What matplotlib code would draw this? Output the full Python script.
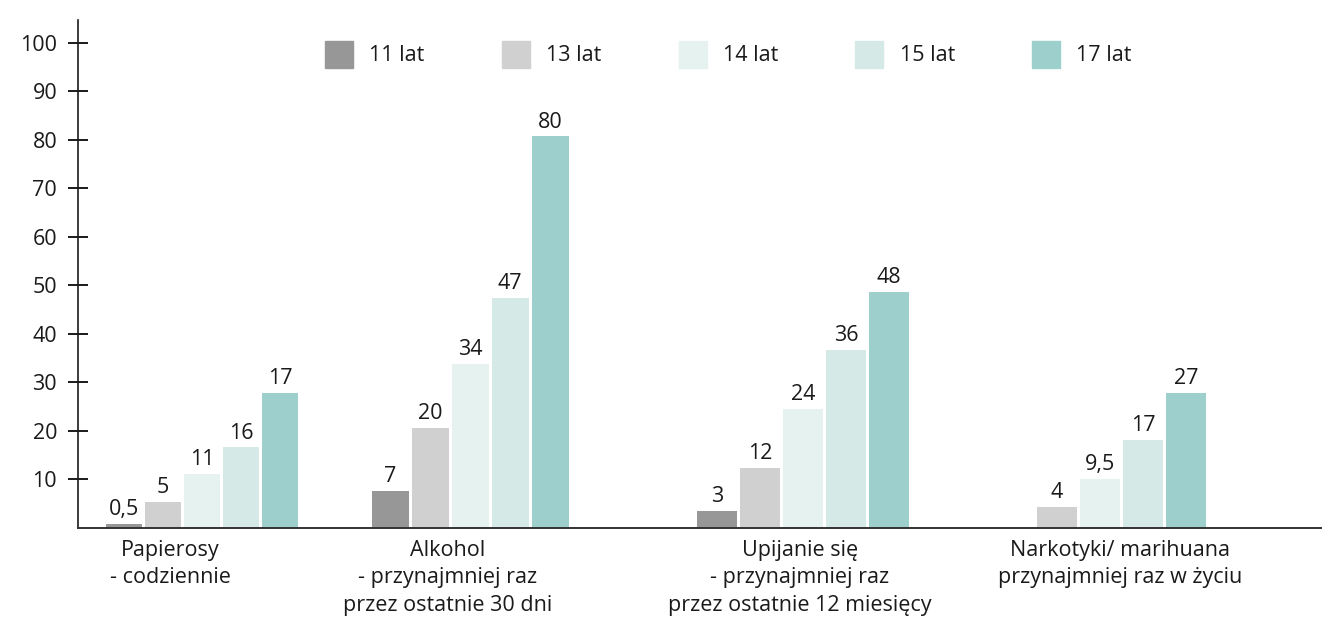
import matplotlib
matplotlib.use("Agg")
import matplotlib.pyplot as plt

plt.rcParams['font.family'] = ['Open Sans', 'DejaVu Sans']

# data
categories = ["Papierosy\n- codziennie",
              "Alkohol\n- przynajmniej raz\nprzez ostatnie 30 dni",
              "Upijanie się\n- przynajmniej raz\nprzez ostatnie 12 miesięcy",
              "Narkotyki/ marihuana\nprzynajmniej raz w życiu"]
series = ["11 lat", "13 lat", "14 lat", "15 lat", "17 lat"]
# drawn bar heights (as measured on the axis)
heights = [
    [0.8, 5.4, 11.1, 16.6, 27.8],
    [7.7, 20.6, 33.9, 47.5, 80.7],
    [3.6, 12.4, 24.6, 36.7, 48.6],
    [None, 4.3, 10.1, 18.2, 27.8],
]
# printed value labels
value_labels = [
    ["0,5", "5", "11", "16", "17"],
    ["7", "20", "34", "47", "80"],
    ["3", "12", "24", "36", "48"],
    [None, "4", "9,5", "17", "27"],
]
colors = ["#979797", "#d0d0d0", "#e5f2f0", "#d5e9e6", "#9dd0cd"]

# layout (x in pixel-like units from the y axis)
group_centers = [124, 392, 725, 1022]
group_steps = [39, 40, 43, 43]
label_centers = [92, 370, 722, 1042]
fs = 15.5

fig = plt.figure(figsize=(13.22, 6.26), dpi=100)
ax = fig.add_axes([78 / 1322, 98 / 626, 1244 / 1322, 508 / 626])

for g, c in enumerate(group_centers):
    step = group_steps[g]
    for i in range(len(series)):
        h = heights[g][i]
        if h is None:
            continue
        x = c + (i - 2) * step
        ax.bar(x, h, width=step - 3, color=colors[i], zorder=2)
        ax.text(x, h + 0.8, value_labels[g][i], ha='center', va='bottom',
                fontsize=fs, color='#1a1a1a')

for lc, cat in zip(label_centers, categories):
    ax.text(lc, -2.4, cat, ha='center', va='top', fontsize=fs,
            color='#1a1a1a', linespacing=1.42)

ax.set_xlim(0, 1244)
ax.set_ylim(0, 104.7)
ax.set_yticks(range(10, 101, 10))
ax.set_xticks([])
ax.tick_params(axis='y', direction='inout', length=14, width=1.4,
               pad=8, labelsize=fs, colors='#1a1a1a')
for s in ['top', 'right']:
    ax.spines[s].set_visible(False)
ax.spines['left'].set_linewidth(1.2)
ax.spines['left'].set_color('#1a1a1a')
ax.spines['bottom'].set_linewidth(1.4)
ax.spines['bottom'].set_color('#333333')

handles = [plt.Rectangle((0, 0), 1, 1, color=col) for col in colors]
leg = ax.legend(handles, series, ncol=5, loc='upper left',
                bbox_to_anchor=(236 / 1244, 1 - 10 / 508), frameon=False,
                fontsize=fs, handlelength=1.3, handleheight=1.55,
                handletextpad=0.75, columnspacing=3.6, borderpad=0)
for t in leg.get_texts():
    t.set_color('#1a1a1a')

fig.savefig("out.png", dpi=100)
